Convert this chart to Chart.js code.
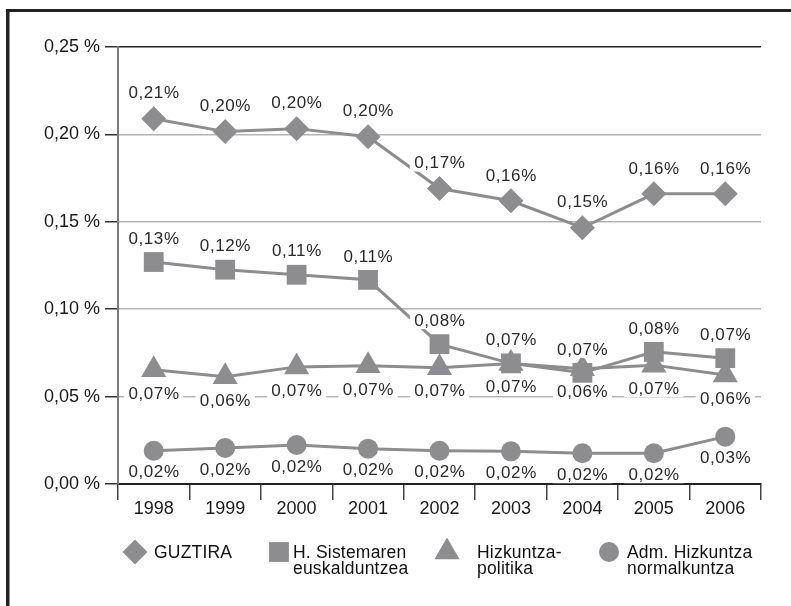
<!DOCTYPE html>
<html><head><meta charset="utf-8">
<script src="https://cdn.jsdelivr.net/npm/chart.js@4/dist/chart.umd.min.js"></script>
<style>html,body{margin:0;padding:0;background:#fff}#wrap{width:791px;height:606px;position:relative}</style>
</head><body><div id="wrap"><canvas id="c" width="791" height="606"></canvas></div>
<script>
const years = ['1998','1999','2000','2001','2002','2003','2004','2005','2006'];
const guztira = [0.209,0.2016,0.2033,0.1987,0.169,0.162,0.1466,0.166,0.166];
const guztiraLabels = ['0,21%','0,20%','0,20%','0,20%','0,17%','0,16%','0,15%','0,16%','0,16%'];
const sistema = [0.127,0.1226,0.1197,0.1168,0.080,0.069,0.0636,0.0756,0.072];
const sistemaLabels = ['0,13%','0,12%','0,11%','0,11%','0,08%','0,07%','0,07%','0,08%','0,07%'];
const politika = [0.0653,0.0613,0.067,0.0676,0.0665,0.069,0.066,0.068,0.0624];
const politikaLabels = ['0,07%','0,06%','0,07%','0,07%','0,07%','0,07%','0,06%','0,07%','0,06%'];
const normal = [0.019,0.0206,0.0223,0.0202,0.019,0.0187,0.0176,0.0176,0.0271];
const normalLabels = ['0,02%','0,02%','0,02%','0,02%','0,02%','0,02%','0,02%','0,02%','0,03%'];
const seriesNames = [['GUZTIRA'],['H. Sistemaren','euskalduntzea'],['Hizkuntza-','politika'],['Adm. Hizkuntza','normalkuntza']];
const yTickLabels = ['0,00 %','0,05 %','0,10 %','0,15 %','0,20 %','0,25 %'];

const GRAY = '#8d8d8f';
const FONT = '"Liberation Sans", Arial, Helvetica, sans-serif';

function ds(name, data, labels, style, radius, offset){
  return {label: name.join(' '), data, valueLabels: labels, labelOffset: offset, legendText: name,
    borderColor: GRAY, backgroundColor: GRAY, borderWidth: 3,
    pointStyle: style, pointRadius: radius, pointHoverRadius: radius,
    pointBackgroundColor: GRAY, pointBorderColor: GRAY, pointBorderWidth: 0,
    tension: 0, fill: false};
}

const frame = {
  id: 'frame',
  beforeDraw(chart){
    const c = chart.ctx;
    c.save();
    c.fillStyle = '#fff'; c.fillRect(0,0,chart.width,chart.height);
    c.fillStyle = '#222';
    c.fillRect(6, 9, 3.5, chart.height);
    c.fillRect(6, 9, chart.width, 3);
    c.restore();
  }
};

const valueLabels = {
  id: 'valueLabels',
  afterDatasetsDraw(chart){
    const c = chart.ctx;
    c.save();
    c.font = '17px ' + FONT;
    if ('letterSpacing' in c) c.letterSpacing = '0.6px';
    c.textAlign = 'center';
    c.textBaseline = 'middle';
    chart.data.datasets.forEach((d, di) => {
      const meta = chart.getDatasetMeta(di);
      meta.data.forEach((pt, i) => {
        const t = d.valueLabels[i];
        const x = pt.x, y = pt.y + d.labelOffset;
        const w = c.measureText(t).width;
        c.fillStyle = '#fff';
        c.fillRect(x - w/2 - 4, y - 8, w + 8, 16);
        c.fillStyle = '#2a2a2a';
        c.fillText(t, x + 0.3, y);
      });
    });
    c.restore();
  }
};

const customLegend = {
  id: 'customLegend',
  afterDraw(chart){
    const c = chart.ctx;
    const xs = [135, 279, 447, 609];
    const cy = 552;
    c.save();
    c.font = '17.5px ' + FONT;
    if ('letterSpacing' in c) c.letterSpacing = '0.2px';
    c.textAlign = 'left';
    c.textBaseline = 'middle';
    chart.data.datasets.forEach((d, i) => {
      const x = xs[i];
      c.fillStyle = d.pointBackgroundColor;
      c.strokeStyle = d.pointBorderColor;
      c.lineWidth = 0;
      Chart.helpers.drawPoint(c, {pointStyle: d.pointStyle, radius: d.pointRadius, borderWidth: 0, rotation: 0}, x, cy);
      c.fillStyle = '#111';
      d.legendText.forEach((line, li) => {
        c.fillText(line, x + (i===0 ? 19 : (i===1 ? 14 : (i===2 ? 30 : 18))), cy + 1 + li*16);
      });
    });
    c.restore();
  }
};

new Chart(document.getElementById('c'), {
  type: 'line',
  data: {
    labels: years,
    datasets: [
      ds(seriesNames[0], guztira, guztiraLabels, 'rectRot', 12.5, -25),
      ds(seriesNames[1], sistema, sistemaLabels, 'rect', 14, -23),
      ds(seriesNames[2], politika, politikaLabels, 'triangle', 14.5, 24),
      ds(seriesNames[3], normal, normalLabels, 'circle', 10, 22)
    ]
  },
  options: {
    responsive: false,
    animation: false,
    events: [],
    layout: {padding: {top: 47, right: 30, left: 0, bottom: 82}},
    plugins: {legend: {display: false}, tooltip: {enabled: false}},
    scales: {
      x: {
        offset: true,
        grid: {offset: true, drawOnChartArea: false, drawTicks: true, tickLength: 16, tickColor: '#444', lineWidth: 1.5},
        border: {display: true, color: '#222', width: 2},
        ticks: {color: '#1a1a1a', font: {family: FONT, size: 18, lineHeight: 1}, padding: 0, maxRotation: 0, autoSkip: false},
        afterFit(s){ s.height = 40; }
      },
      y: {
        min: 0, max: 0.25,
        grid: {
          color: ctx => (ctx.tick && Math.abs(ctx.tick.value - 0.25) < 1e-9) ? '#222' : (ctx.tick && ctx.tick.value === 0 ? 'rgba(0,0,0,0)' : '#b4b4b4'),
          lineWidth: 1.5, tickLength: 13, tickColor: '#333', drawTicks: true
        },
        border: {display: true, color: '#7a7a7a', width: 2},
        ticks: {stepSize: 0.05, color: '#1a1a1a', font: {family: FONT, size: 18}, padding: 5,
          callback: (v, i) => yTickLabels[i]},
        afterFit(s){ s.width = 118; }
      }
    }
  },
  plugins: [frame, valueLabels, customLegend]
});
</script>
</body></html>
